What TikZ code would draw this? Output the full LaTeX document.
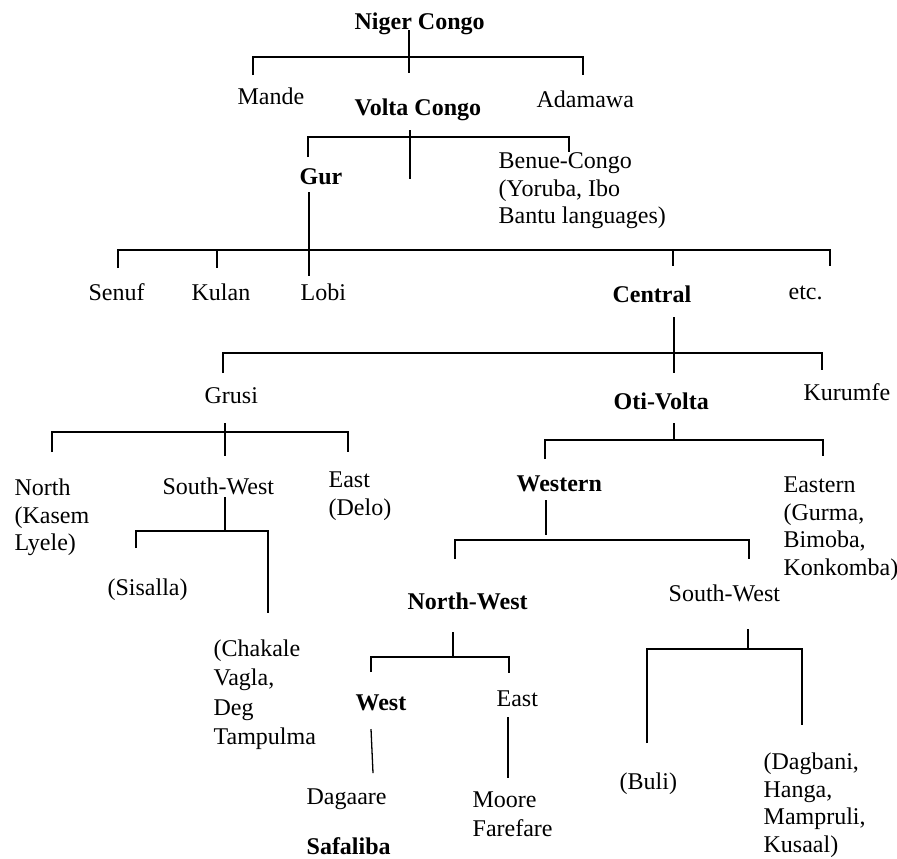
\documentclass[tikz,border=0pt]{standalone}
\usepackage{fontspec}
\setmainfont{Liberation Serif}
\begin{document}
\begin{tikzpicture}[x=0.5pt,y=-0.5pt,line width=0.65pt,
  lbl/.style={inner sep=0pt,anchor=base west,font=\fontsize{12}{13.8}\selectfont},
  bld/.style={inner sep=0pt,anchor=base west,font=\fontsize{12}{13.8}\selectfont\bfseries},
  blk/.style={inner sep=0pt,anchor=north west,align=left,font=\fontsize{12}{13.8}\selectfont},
  blkwide/.style={inner sep=0pt,anchor=north west,align=left,font=\fontsize{12}{14.65}\selectfont}]
\useasboundingbox (0,0) rectangle (897,858);
% ---------- texts ----------
\node[bld] (niger) at (354,29) {Niger Congo};
\node[lbl] (mande) at (237,104) {Mande};
\node[bld] (volta) at (354,115) {Volta Congo};
\node[lbl] (adamawa) at (536,107) {Adamawa};
\node[bld] (gur) at (299,184) {Gur};
\node[blk] (benue) at (498,150) {\rule{0pt}{9pt}Benue-Congo\\(Yoruba, Ibo\\Bantu languages)};
\node[lbl] (senuf) at (88,300) {Senuf};
\node[lbl] (kulan) at (191,300) {Kulan};
\node[lbl] (lobi) at (300,300) {Lobi};
\node[bld] (central) at (612,302) {Central};
\node[lbl] (etc) at (788,299) {etc.};
\node[lbl] (grusi) at (204,403) {Grusi};
\node[bld] (oti) at (613,409) {Oti-Volta};
\node[lbl] (kurumfe) at (803,400) {Kurumfe};
\node[blk] (north) at (14,477) {\rule{0pt}{9pt}North\\(Kasem\\Lyele)};
\node[lbl] (gsw) at (162,494) {South-West};
\node[blk] (geast) at (328,469) {\rule{0pt}{9pt}East\\(Delo)};
\node[bld] (western) at (516,491) {Western};
\node[blk] (eastern) at (783,474) {\rule{0pt}{9pt}Eastern\\(Gurma,\\Bimoba,\\Konkomba)};
\node[lbl] (sisalla) at (107,595) {(Sisalla)};
\node[bld] (nw) at (407,609) {North-West};
\node[lbl] (osw) at (668,601) {South-West};
\node[blkwide] (chakale) at (213,638) {\rule{0pt}{9pt}(Chakale\\Vagla,\\Deg\\Tampulma};
\node[bld] (west) at (355,710) {West};
\node[lbl] (east) at (496,706) {East};
\node[lbl] (dagaare) at (306,804) {Dagaare};
\node[bld] (safaliba) at (306,854) {Safaliba};
\node[blkwide] (moore) at (472,789) {\rule{0pt}{9pt}Moore\\Farefare};
\node[lbl] (buli) at (619,789) {(Buli)};
\node[blk] (dagbani) at (763,751) {\rule{0pt}{9pt}(Dagbani,\\Hanga,\\Mampruli,\\Kusaal)};
% ---------- junction coordinates ----------
\coordinate (ncT) at (409,30);  \coordinate (ncB) at (409,73);
\coordinate (ncL) at (253,57);  \coordinate (ncR) at (583,57);
\coordinate (ncLt) at (253,75); \coordinate (ncRt) at (583,75);
\coordinate (vcT) at (410,130); \coordinate (vcB) at (410,179);
\coordinate (vcL) at (308,137); \coordinate (vcR) at (569,137);
\coordinate (vcLt) at (308,157); \coordinate (vcRt) at (569,152);
\coordinate (gT) at (309,192);  \coordinate (gB) at (309,276);
\coordinate (gL) at (118,250);  \coordinate (gR) at (830,250);
\coordinate (gLt) at (118,268); \coordinate (gRt) at (830,266);
\coordinate (gK) at (217,250);  \coordinate (gKt) at (217,268);
\coordinate (gC) at (673,250);  \coordinate (gCt) at (673,266);
\coordinate (cT) at (674,317);  \coordinate (cB) at (674,373);
\coordinate (cL) at (223,353);  \coordinate (cR) at (822,353);
\coordinate (cLt) at (223,373); \coordinate (cRt) at (822,370);
\coordinate (grT) at (225,423); \coordinate (grB) at (225,456);
\coordinate (grL) at (52,432);  \coordinate (grR) at (348,432);
\coordinate (grLt) at (52,452); \coordinate (grRt) at (348,452);
\coordinate (swT) at (225,497); \coordinate (swJ) at (225,531);
\coordinate (swL) at (136,531); \coordinate (swR) at (268,531);
\coordinate (swLt) at (136,548); \coordinate (swRt) at (268,613);
\coordinate (oT) at (674,423);  \coordinate (oJ) at (674,440);
\coordinate (oL) at (545,440);  \coordinate (oR) at (823,440);
\coordinate (oLt) at (545,459); \coordinate (oRt) at (823,456);
\coordinate (wT) at (546,500);  \coordinate (wB) at (546,535);
\coordinate (wL) at (455,540);  \coordinate (wR) at (749,540);
\coordinate (wLt) at (455,559); \coordinate (wRt) at (749,559);
\coordinate (nwT) at (453,632); \coordinate (nwJ) at (453,657);
\coordinate (nwL) at (371,657); \coordinate (nwR) at (509,657);
\coordinate (nwLt) at (371,672); \coordinate (nwRt) at (509,673);
\coordinate (weT) at (371,729); \coordinate (weB) at (373,773);
\coordinate (eT) at (508,717);  \coordinate (eB) at (508,778);
\coordinate (srT) at (748,629); \coordinate (srB) at (748,648);
\coordinate (srL) at (647,649); \coordinate (srR) at (802,649);
\coordinate (srLt) at (647,743); \coordinate (srRt) at (802,725);
% ---------- connectors ----------
\draw (ncT) -- (ncB);
\draw (ncLt) -- (ncL) -- (ncR) -- (ncRt);
\draw (vcT) -- (vcB);
\draw (vcLt) -- (vcL) -- (vcR) -- (vcRt);
\draw (gT) -- (gB);
\draw (gLt) -- (gL) -- (gR) -- (gRt);
\draw (gK) -- (gKt);
\draw (gC) -- (gCt);
\draw (cT) -- (cB);
\draw (cLt) -- (cL) -- (cR) -- (cRt);
\draw (grT) -- (grB);
\draw (grLt) -- (grL) -- (grR) -- (grRt);
\draw (swT) -- (swJ);
\draw (swLt) -- (swL) -- (swR) -- (swRt);
\draw (oT) -- (oJ);
\draw (oLt) -- (oL) -- (oR) -- (oRt);
\draw (wT) -- (wB);
\draw (wLt) -- (wL) -- (wR) -- (wRt);
\draw (nwT) -- (nwJ);
\draw (nwLt) -- (nwL) -- (nwR) -- (nwRt);
\draw (weT) -- (weB);
\draw (eT) -- (eB);
\draw (srT) -- (srB);
\draw (srLt) -- (srL) -- (srR) -- (srRt);
\end{tikzpicture}
\end{document}
